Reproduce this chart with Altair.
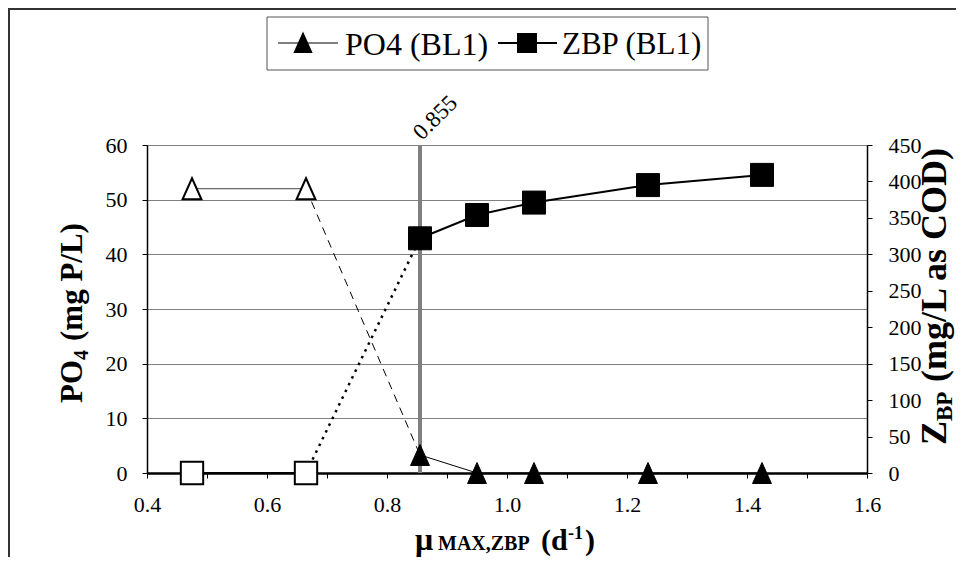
import altair as alt
import pandas as pd

# ---- data ----
mu = [0.475, 0.665, 0.855, 0.95, 1.045, 1.235, 1.425]
po4 = [52.0, 52.0, 3.3, 0.0, 0.0, 0.0, 0.0]
zbp = [0.0, 0.0, 322.0, 354.0, 371.0, 395.0, 409.0]
open_marker = [True, True, False, False, False, False, False]
ref_mu = 0.855
ref_label = "0.855"
x_ticks = [0.4, 0.5, 0.6, 0.7, 0.8, 0.9, 1.0, 1.1, 1.2, 1.3, 1.4, 1.5, 1.6]
po4_ticks = [0, 10, 20, 30, 40, 50, 60]
zbp_ticks = [0, 50, 100, 150, 200, 250, 300, 350, 400, 450]
legend_labels = ["PO4 (BL1)", "ZBP (BL1)"]

SERIF = "Liberation Serif"
W, H = 720, 328
TRI = "M0,-1L0.9,1L-0.9,1Z"

df = pd.DataFrame({"mu": mu, "po4": po4, "zbp": zbp,
                   "open": open_marker, "idx": list(range(len(mu)))})
ref_df = pd.DataFrame({"mu": [ref_mu], "po4": [po4_ticks[0]], "po4_top": [po4_ticks[-1]],
                       "label": [ref_label]})
one = pd.DataFrame({"a": [0]})

X = alt.X("mu:Q",
          scale=alt.Scale(domain=[x_ticks[0], x_ticks[-1]], nice=False, zero=False),
          axis=alt.Axis(values=x_ticks, title=None, grid=False, tickSize=5,
                        domainWidth=2.5, tickWidth=1, labelPadding=16,
                        labelFlush=False, labelFont=SERIF, labelFontSize=22,
                        labelExpr="(round(datum.value*10) % 2 == 0) ? format(datum.value, '.1f') : ''"))
Y1 = alt.Y("po4:Q",
           scale=alt.Scale(domain=[po4_ticks[0], po4_ticks[-1]], nice=False),
           axis=alt.Axis(values=po4_ticks, title=None, orient="left", grid=True,
                         gridColor="#808080", gridWidth=1, tickSize=5, labelFont=SERIF,
                         labelFontSize=22, domainWidth=1.5, labelPadding=15))
Y2 = alt.Y("zbp:Q",
           scale=alt.Scale(domain=[zbp_ticks[0], zbp_ticks[-1]], nice=False),
           axis=alt.Axis(values=zbp_ticks, title=None, orient="right", grid=False,
                         tickSize=5, domainWidth=1.5, labelPadding=16, labelFont=SERIF,
                         labelFontSize=22))

base = alt.Chart(df)

# ---- PO4 group (left axis) ----
vline = alt.Chart(ref_df).mark_rule(color="#808080", strokeWidth=4).encode(
    x=X, y=Y1, y2="po4_top:Q")
vtext = alt.Chart(ref_df).mark_text(angle=315, align="left", baseline="alphabetic",
                                    font=SERIF, fontSize=23, color="black", dx=3).encode(
    x=X, y=alt.value(-2), text="label:N")

p_pre = base.transform_filter("datum.idx <= 1").mark_line(
    color="#444444", strokeWidth=1).encode(x=X, y=Y1)
p_tr = base.transform_filter("datum.idx >= 1 && datum.idx <= 2").mark_line(
    color="black", strokeWidth=1, strokeDash=[8, 6]).encode(x=X, y=Y1)
p_post = base.transform_filter("datum.idx >= 2").mark_line(
    color="black", strokeWidth=1).encode(x=X, y=Y1)
p_open = base.transform_filter("datum.open").mark_point(
    shape=TRI, size=441, filled=True, fill="white", stroke="black",
    strokeWidth=2, opacity=1).encode(x=X, y=Y1)
p_fill = base.transform_filter("!datum.open").mark_point(
    shape=TRI, size=441, filled=True, fill="black", stroke="black",
    strokeWidth=1, opacity=1).encode(x=X, y=Y1)

# decorations (frame, legend, titles)
frame_left = alt.Chart(one).mark_rule(color="#333333", strokeWidth=2).encode(
    x=alt.value(-138), x2=alt.value(-138), y=alt.value(-136), y2=alt.value(420))
frame_top = alt.Chart(one).mark_rule(color="#333333", strokeWidth=2).encode(
    x=alt.value(-139), x2=alt.value(810), y=alt.value(-136), y2=alt.value(-136))
leg_box = alt.Chart(one).mark_rect(fill="white", stroke="#555555", strokeWidth=1).encode(
    x=alt.value(120), x2=alt.value(561), y=alt.value(-128), y2=alt.value(-75))
leg_l1 = alt.Chart(one).mark_rule(color="black", strokeWidth=1).encode(
    x=alt.value(131), x2=alt.value(191), y=alt.value(-102), y2=alt.value(-102))
leg_p1 = alt.Chart(one).mark_point(shape=TRI, size=324, filled=True, fill="black",
                                   stroke="black", opacity=1).encode(
    x=alt.value(156), y=alt.value(-102))
leg_t1 = alt.Chart(one).mark_text(align="left", baseline="middle", font=SERIF,
                                  fontSize=32, color="black").encode(
    x=alt.value(198), y=alt.value(-100), text=alt.value(legend_labels[0]))
leg_l2 = alt.Chart(one).mark_rule(color="black", strokeWidth=2).encode(
    x=alt.value(351), x2=alt.value(410), y=alt.value(-102), y2=alt.value(-102))
leg_p2 = alt.Chart(one).mark_point(shape="square", size=324, filled=True, fill="black",
                                   stroke="black", opacity=1).encode(
    x=alt.value(380), y=alt.value(-102))
leg_t2 = alt.Chart(one).mark_text(align="left", baseline="middle", font=SERIF,
                                  fontSize=31, color="black").encode(
    x=alt.value(415), y=alt.value(-100), text=alt.value(legend_labels[1]))


def txt(s, x, y, size, angle=0, dx=0, dy=0, bold=True):
    return alt.Chart(one).mark_text(align="left", baseline="alphabetic", font=SERIF,
                                    fontSize=size, fontWeight="bold" if bold else "normal",
                                    color="black", angle=angle, dx=dx, dy=dy).encode(
        x=alt.value(x), y=alt.value(y), text=alt.value(s))


# x title: mu_MAX,ZBP (d^-1)
xt = [
    txt("\u03bc", 268, 405, 32),
    txt("MAX,ZBP", 291, 405, 20),
    txt("(d", 394, 405, 30),
    txt("-1", 421, 394, 18),
    txt(")", 438, 405, 30),
]
# left title: PO4 (mg P/L)
lt = [
    txt("PO", -65, 258, 31, angle=270),
    txt("4", -65, 258, 20, angle=270, dx=43, dy=6),
    txt("(mg P/L)", -65, 258, 31, angle=270, dx=62),
]
# right title: Z_BP (mg/L as COD)
rt = [
    txt("Z", 799, 300, 36, angle=270),
    txt("BP", 799, 300, 23, angle=270, dx=24, dy=6),
    txt("(mg/L as COD)", 799, 300, 36, angle=270, dx=63),
]

left = alt.layer(frame_left, frame_top, vline, vtext, p_pre, p_tr, p_post, p_open, p_fill,
                 leg_box, leg_l1, leg_p1, leg_t1, leg_l2, leg_p2, leg_t2, *xt, *lt, *rt)

# ---- ZBP group (right axis) ----
z_pre = base.transform_filter("datum.idx <= 1").mark_line(
    color="black", strokeWidth=2).encode(x=X, y=Y2)
z_tr = base.transform_filter("datum.idx >= 1 && datum.idx <= 2").mark_line(
    color="black", strokeWidth=2.5, strokeDash=[2.5, 5]).encode(x=X, y=Y2)
z_post = base.transform_filter("datum.idx >= 2").mark_line(
    color="black", strokeWidth=2).encode(x=X, y=Y2)
z_open = base.transform_filter("datum.open").mark_point(
    shape="square", size=500, filled=True, fill="white", stroke="black",
    strokeWidth=2, opacity=1).encode(x=X, y=Y2)
z_fill = base.transform_filter("!datum.open").mark_point(
    shape="square", size=529, filled=True, fill="black", stroke="black",
    strokeWidth=1, opacity=1).encode(x=X, y=Y2)

right = alt.layer(z_pre, z_tr, z_post, z_open, z_fill)

chart = alt.layer(left, right).resolve_scale(y="independent").properties(
    width=W, height=H,
    padding={"left": 139, "top": 137, "right": 89, "bottom": 84},
    autosize=alt.AutoSizeParams(type="none"),
    background="white",
).configure_view(stroke=None).configure_axis(
    labelColor="black", tickColor="black", domainColor="black",
)

chart.save("out.html", embed_options={"renderer": "svg", "actions": False})
